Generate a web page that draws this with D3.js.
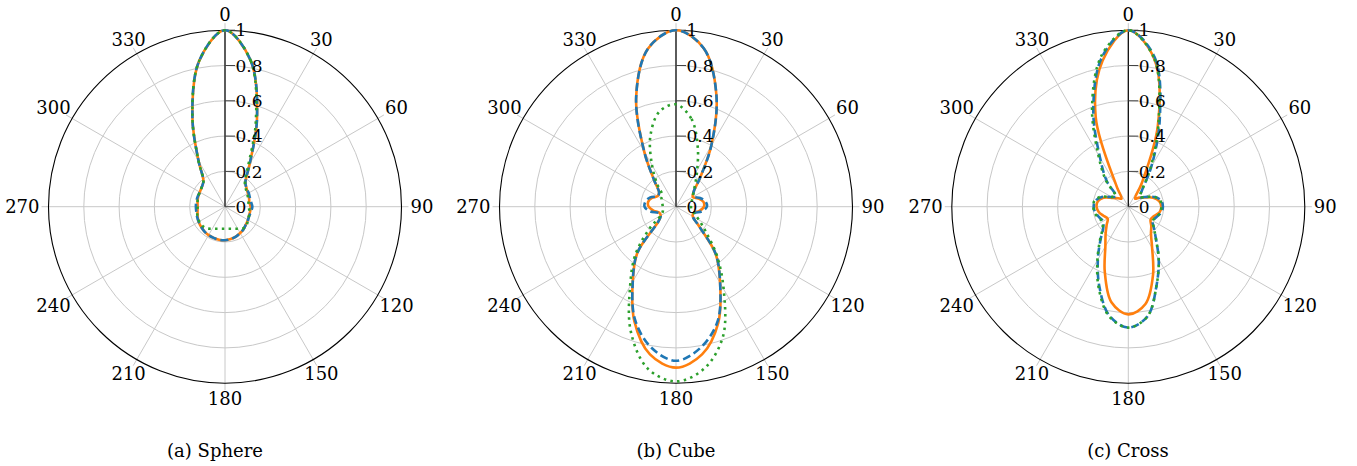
<!DOCTYPE html>
<html>
<head>
<meta charset="utf-8">
<script src="https://cdn.jsdelivr.net/npm/d3@7"></script>
<style>
  body { margin: 0; background: #fff; }
  text { font-family: "DejaVu Serif", serif; fill: #000; }
</style>
</head>
<body>
<svg id="chart" width="1357" height="466"></svg>
<script>
// angles of every sample, degrees clockwise from the top
const angles = [0, 10, 20, 30, 40, 50, 60, 70, 80, 90, 100, 110,
  120, 130, 140, 150, 160, 170, 180, 190, 200, 210, 220, 230,
  240, 250, 260, 270, 280, 290, 300, 310, 320, 330, 340, 350];

// (a) sphere
const sphereSolid = [1.00, 0.84, 0.53, 0.28, 0.18, 0.16, 0.15, 0.145, 0.14, 0.145, 0.145, 0.145,
  0.15, 0.155, 0.165, 0.172, 0.18, 0.186, 0.19, 0.19, 0.188, 0.186, 0.182, 0.177,
  0.172, 0.165, 0.158, 0.155, 0.158, 0.162, 0.165, 0.172, 0.19, 0.30, 0.54, 0.84];
const sphereDashed = [1.00, 0.84, 0.53, 0.28, 0.18, 0.16, 0.155, 0.15, 0.15, 0.155, 0.15, 0.147,
  0.15, 0.155, 0.165, 0.172, 0.18, 0.186, 0.19, 0.19, 0.188, 0.186, 0.182, 0.177,
  0.172, 0.168, 0.165, 0.165, 0.165, 0.165, 0.165, 0.172, 0.19, 0.30, 0.54, 0.84];
const sphereDotted = [1.00, 0.84, 0.51, 0.26, 0.175, 0.155, 0.145, 0.14, 0.135, 0.135, 0.14, 0.145,
  0.15, 0.16, 0.16, 0.144, 0.133, 0.127, 0.125, 0.127, 0.133, 0.144, 0.16, 0.168,
  0.168, 0.165, 0.16, 0.155, 0.158, 0.162, 0.165, 0.172, 0.19, 0.30, 0.54, 0.84];

// (b) cube
const cubeSolid = [1.00, 0.91, 0.67, 0.40, 0.21, 0.13, 0.11, 0.135, 0.158, 0.158, 0.135, 0.105,
  0.11, 0.17, 0.35, 0.50, 0.70, 0.85, 0.912, 0.85, 0.69, 0.49, 0.34, 0.13,
  0.10, 0.10, 0.13, 0.155, 0.16, 0.145, 0.12, 0.125, 0.19, 0.36, 0.66, 0.91];
const cubeDashed = [1.00, 0.91, 0.67, 0.40, 0.21, 0.13, 0.115, 0.145, 0.17, 0.175, 0.15, 0.11,
  0.11, 0.17, 0.35, 0.50, 0.69, 0.81, 0.873, 0.81, 0.68, 0.49, 0.34, 0.13,
  0.10, 0.105, 0.15, 0.178, 0.175, 0.155, 0.12, 0.125, 0.19, 0.36, 0.66, 0.91];
const cubeDotted = [0.58, 0.505, 0.36, 0.24, 0.17, 0.13, 0.11, 0.095, 0.088, 0.085, 0.088, 0.11,
  0.15, 0.22, 0.36, 0.54, 0.78, 0.93, 0.99, 0.93, 0.75, 0.52, 0.36, 0.20,
  0.10, 0.08, 0.075, 0.075, 0.078, 0.085, 0.095, 0.10, 0.165, 0.272, 0.425, 0.546];

// (c) cross
const crossSolid = [1.00, 0.85, 0.49, 0.15, 0.06, 0.08, 0.105, 0.15, 0.178, 0.187, 0.18, 0.155,
  0.146, 0.17, 0.20, 0.27, 0.41, 0.56, 0.61, 0.55, 0.39, 0.26, 0.20, 0.16,
  0.135, 0.15, 0.17, 0.18, 0.175, 0.15, 0.10, 0.075, 0.06, 0.13, 0.54, 0.84];
const crossDashed = [1.00, 0.86, 0.52, 0.26, 0.12, 0.085, 0.11, 0.16, 0.19, 0.196, 0.19, 0.17,
  0.16, 0.19, 0.245, 0.345, 0.47, 0.63, 0.685, 0.625, 0.48, 0.345, 0.245, 0.185,
  0.165, 0.175, 0.19, 0.196, 0.19, 0.16, 0.11, 0.09, 0.19, 0.32, 0.58, 0.86];
const crossDotted = [1.00, 0.85, 0.50, 0.25, 0.12, 0.085, 0.11, 0.16, 0.185, 0.187, 0.185, 0.17,
  0.16, 0.19, 0.245, 0.345, 0.47, 0.63, 0.685, 0.63, 0.49, 0.35, 0.25, 0.19,
  0.17, 0.18, 0.195, 0.197, 0.195, 0.165, 0.11, 0.095, 0.20, 0.34, 0.60, 0.87];

const angleTicks = [0, 30, 60, 90, 120, 150, 180, 210, 240, 270, 300, 330];
const radialTicks = [0, 0.2, 0.4, 0.6, 0.8, 1];
const captions = ['(a) Sphere', '(b) Cube', '(c) Cross'];

const panels = [
  { caption: captions[0], solid: sphereSolid, dashed: sphereDashed, dotted: sphereDotted },
  { caption: captions[1], solid: cubeSolid, dashed: cubeDashed, dotted: cubeDotted },
  { caption: captions[2], solid: crossSolid, dashed: crossDashed, dotted: crossDotted }
];

const centersX = [225, 676, 1128.3];
const centerY = 206.7;
const R = 176.5;
const fontSize = 18;
const radialFontSize = 17;
const captionX = [215, 676, 1128];

const svg = d3.select('#chart');

const r = d3.scaleLinear().domain([0, 1]).range([0, R]);
const a = d3.scaleLinear().domain([0, 360]).range([0, 2 * Math.PI]);

const line = d3.lineRadial()
    .angle((d, i) => a(angles[i]))
    .radius(d => r(d))
    .curve(d3.curveCatmullRomClosed.alpha(0.5));

const styles = [
  { key: 'solid', color: '#ff7f0e', dash: null },
  { key: 'dashed', color: '#1f77b4', dash: '8,4' },
  { key: 'dotted', color: '#2ca02c', dash: '2.5,4.3' }
];

panels.forEach((p, k) => {
  const g = svg.append('g')
      .attr('transform', `translate(${centersX[k]}, ${centerY})`);

  // grid circles
  g.selectAll('circle.grid')
    .data(radialTicks.filter(t => t > 0 && t < 1))
    .enter().append('circle')
      .attr('r', d => r(d))
      .attr('fill', 'none')
      .attr('stroke', '#c8c8c8')
      .attr('stroke-width', 1);

  // spokes
  g.selectAll('line.spoke')
    .data(angleTicks)
    .enter().append('line')
      .attr('x1', 0).attr('y1', 0)
      .attr('x2', d => (R + 7) * Math.sin(a(d)))
      .attr('y2', d => -(R + 7) * Math.cos(a(d)))
      .attr('stroke', '#c8c8c8')
      .attr('stroke-width', 1);

  // outer circle
  g.append('circle')
    .attr('r', R)
    .attr('fill', 'none')
    .attr('stroke', '#000')
    .attr('stroke-width', 1.1);

  // radial axis
  g.append('line')
    .attr('x1', 0).attr('y1', 0)
    .attr('x2', 0).attr('y2', -R)
    .attr('stroke', '#000')
    .attr('stroke-width', 1.2);

  g.selectAll('line.rtick')
    .data(radialTicks)
    .enter().append('line')
      .attr('x1', 0).attr('x2', 10)
      .attr('y1', d => -r(d)).attr('y2', d => -r(d))
      .attr('stroke', '#444')
      .attr('stroke-width', 1);

  // curves
  styles.forEach(s => {
    g.append('path')
      .datum(p[s.key])
      .attr('d', line)
      .attr('fill', 'none')
      .attr('stroke', s.color)
      .attr('stroke-width', 2.6)
      .attr('stroke-dasharray', s.dash)
      .attr('stroke-linejoin', 'round');
  });

  // radial tick labels
  g.selectAll('text.rlabel')
    .data(radialTicks)
    .enter().append('text')
      .attr('x', 10.5)
      .attr('y', d => -r(d) + 0.3645 * radialFontSize)
      .style('font-size', `${radialFontSize}px`)
      .text(d => d3.format('~g')(d));

  // angle labels
  angleTicks.forEach(t => {
    const txt = g.append('text')
      .attr('text-anchor', 'middle')
      .style('font-size', `${fontSize}px`)
      .text(t);
    const w = txt.node().getComputedTextLength();
    const s = Math.sin(a(t));
    const c = Math.cos(a(t));
    const hw = w / 2;
    const hh = 6.3;
    const bx = Math.abs(s) > 1e-6 ? hw / Math.abs(s) : Infinity;
    const by = Math.abs(c) > 1e-6 ? hh / Math.abs(c) : Infinity;
    const dist = R + 9 + Math.min(bx, by);
    txt.attr('x', dist * s)
      .attr('y', -dist * c + 0.3645 * fontSize);
  });

  // caption
  svg.append('text')
    .attr('x', captionX[k])
    .attr('y', 457)
    .attr('text-anchor', 'middle')
    .style('font-size', `${fontSize}px`)
    .text(p.caption);
});
</script>
</body>
</html>
